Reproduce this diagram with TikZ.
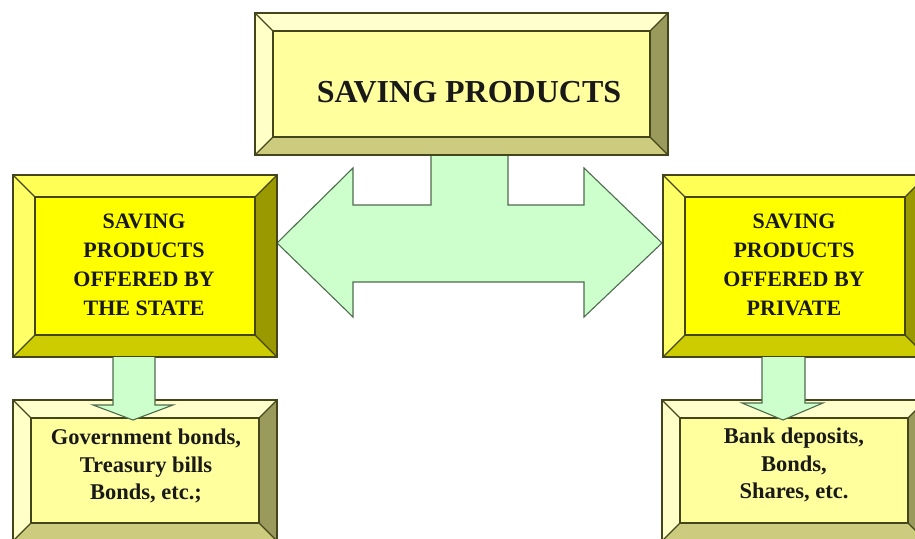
\documentclass[tikz,border=0pt]{standalone}
\usepackage{fontspec}
\setmainfont{Liberation Serif}
\definecolor{palefill}{HTML}{FFFF9E}
\definecolor{paletop}{HTML}{FFFFCC}
\definecolor{paleleft}{HTML}{FFFFC8}
\definecolor{paleright}{HTML}{9A9A5C}
\definecolor{palebottom}{HTML}{CDCB7E}
\definecolor{brightfill}{HTML}{FFFF00}
\definecolor{brighttop}{HTML}{FFFF55}
\definecolor{brightleft}{HTML}{FFFF66}
\definecolor{brightright}{HTML}{9A9A00}
\definecolor{brightbottom}{HTML}{CCCC00}
\definecolor{arrowfill}{HTML}{CCFFCC}
\definecolor{arrowline}{HTML}{4F6B4F}
\definecolor{edgeline}{HTML}{45451C}
% bevelled box: x1, y1, x2, y2, bevel, colour set
\newcommand{\bevbox}[6]{%
  \fill[#6top] (#1,#2) -- (#3,#2) -- (#3-#5,#2+#5) -- (#1+#5,#2+#5) -- cycle;
  \fill[#6left] (#1,#2) -- (#1+#5,#2+#5) -- (#1+#5,#4-#5) -- (#1,#4) -- cycle;
  \fill[#6right] (#3,#2) -- (#3,#4) -- (#3-#5,#4-#5) -- (#3-#5,#2+#5) -- cycle;
  \fill[#6bottom] (#1,#4) -- (#1+#5,#4-#5) -- (#3-#5,#4-#5) -- (#3,#4) -- cycle;
  \fill[#6fill] (#1+#5,#2+#5) rectangle (#3-#5,#4-#5);
  \draw[edge] (#1,#2) rectangle (#3,#4);
  \draw[edge] (#1+#5,#2+#5) rectangle (#3-#5,#4-#5);
  \draw[edge] (#1,#2) -- (#1+#5,#2+#5) (#3,#2) -- (#3-#5,#2+#5)
    (#1,#4) -- (#1+#5,#4-#5) (#3,#4) -- (#3-#5,#4-#5);
}
\tikzset{
  edge/.style={draw=edgeline, line width=1.2pt},
  blockarrow/.style={fill=arrowfill, draw=arrowline, line width=1.1pt, line join=miter},
  headtext/.style={font=\bfseries\fontsize{32}{38}\selectfont, text=black!90},
  midtext/.style={font=\bfseries\fontsize{22}{29}\selectfont, align=center, text=black!90},
  listtext/.style={font=\bfseries\fontsize{22.5}{27.5}\selectfont, align=center, text=black!90}
}
\begin{document}
\begin{tikzpicture}[x=1pt,y=-1pt]
  \useasboundingbox (0,0) rectangle (915,538);
  \clip (0,0) rectangle (915,538);
  % double arrow between the two middle boxes
  \draw[blockarrow] (277,243) -- (353,168) -- (353,205) -- (431,205) -- (431,155)
    -- (508,155) -- (508,205) -- (584,205) -- (584,168) -- (662,243) -- (584,317)
    -- (584,282) -- (353,282) -- (353,317) -- cycle;
  % boxes
  \bevbox{255}{13}{668}{155}{18}{pale}
  \bevbox{13}{175}{277}{357}{22}{bright}
  \bevbox{663}{175}{927}{357}{22}{bright}
  \bevbox{13}{400}{277}{541}{18}{pale}
  \bevbox{662}{400}{926}{541}{18}{pale}
  % down arrows
  \draw[blockarrow] (113,357) -- (113,405) -- (93,405) -- (133,420) -- (173,405)
    -- (155,405) -- (155,357);
  \draw[blockarrow] (762,357) -- (762,403) -- (742,403) -- (783,420) -- (823,403)
    -- (805,403) -- (805,357);
  % texts
  \node[headtext] (top) at (469,92) {SAVING PRODUCTS};
  \node[midtext] (state) at (144,265) {SAVING\\PRODUCTS\\OFFERED BY\\THE STATE};
  \node[midtext] (private) at (794,265) {SAVING\\PRODUCTS\\OFFERED BY\\PRIVATE};
  \node[listtext] (statelist) at (146,466) {Government bonds,\\Treasury bills\\Bonds, etc.;};
  \node[listtext] (privatelist) at (794,465) {Bank deposits,\\Bonds,\\Shares, etc.};
\end{tikzpicture}
\end{document}
